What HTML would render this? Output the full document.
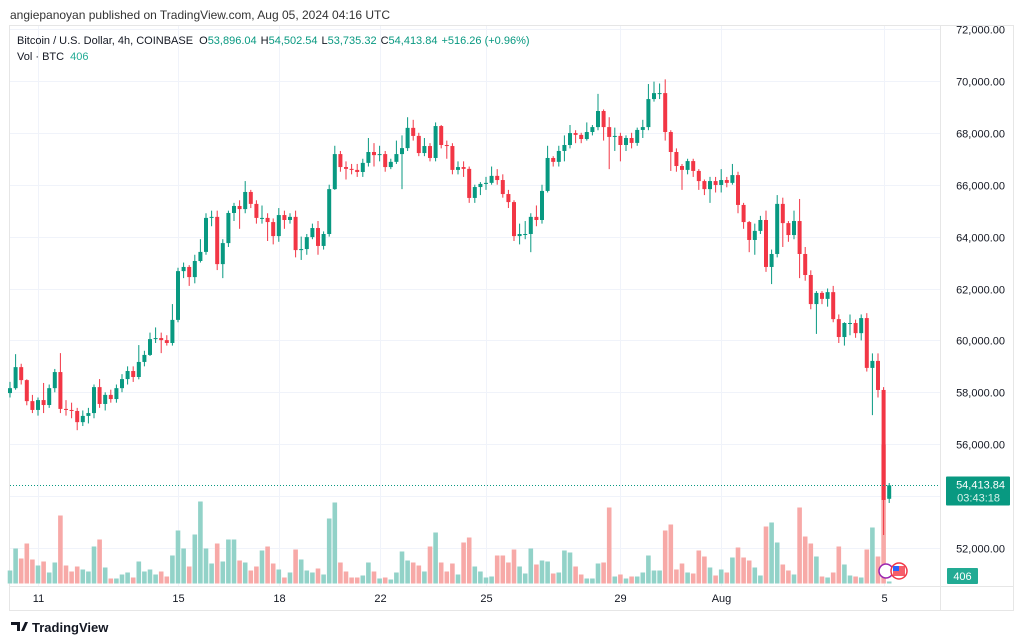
<!DOCTYPE html>
<html><head><meta charset="utf-8"><style>
body{margin:0;background:#fff;font-family:"Liberation Sans",sans-serif;}
#wrap{position:relative;width:1024px;height:643px;overflow:hidden;background:#fff}
svg text{font-family:"Liberation Sans",sans-serif}
</style></head><body>
<div id="wrap">
<svg id="chart" width="1024" height="643" viewBox="0 0 1024 643">
<text x="10" y="19" font-size="12" fill="#333">angiepanoyan published on TradingView.com, Aug 05, 2024 04:16 UTC</text>
<rect x="9.5" y="25.5" width="1004" height="585" fill="none" stroke="#e6e6e6"/>
<g id="grid"></g>
<g id="vols"></g>
<g id="candles"></g>
<g id="axis"></g>
<g>
<text x="17" y="44" font-size="11" fill="#131722">Bitcoin / U.S. Dollar, 4h, COINBASE <tspan dx="3">O</tspan><tspan fill="#089981">53,896.04</tspan><tspan dx="4">H</tspan><tspan fill="#089981">54,502.54</tspan><tspan dx="4">L</tspan><tspan fill="#089981">53,735.32</tspan><tspan dx="4">C</tspan><tspan fill="#089981">54,413.84</tspan><tspan dx="4" fill="#089981">+516.26 (+0.96%)</tspan></text>
<text x="17" y="60" font-size="11" fill="#131722">Vol · BTC <tspan dx="3" fill="#22ab94">406</tspan></text>
</g>
<g>
<circle cx="886" cy="571" r="7" fill="#fff" stroke="#9c27b0" stroke-width="1.5"/>
<circle cx="899" cy="571" r="8" fill="#fff" stroke="#f23645" stroke-width="1.5"/>
<rect x="893" y="566" width="12" height="10" fill="#f23645" opacity="0.8"/>
<rect x="893" y="566" width="6" height="5" fill="#2962ff"/>
</g>
<g>
<path d="M11 622h9v9h-3v-6h-6z M21 631l4-9h3l-4 9z" fill="#131722"/>
<text x="32" y="632" font-size="13" font-weight="bold" fill="#131722">TradingView</text>
</g>
</svg>
</div>
<script>
const closes=[58160,58970,58470,57660,57320,57700,57510,58160,58780,57360,
57320,57280,56850,57090,57200,58200,57550,57900,57740,58160,
58510,58820,58590,59170,59440,60050,60090,60010,59900,60790,
62670,62830,62440,63060,63410,64720,64760,62940,63750,64910,
65180,65060,65720,65260,64720,64720,64560,64020,64830,64640,
64760,63480,63520,63980,64330,63640,64100,65830,67180,66680,
66610,66570,66490,66840,67260,67140,67180,66680,66880,67180,
67410,68190,67880,67220,67490,67030,68260,67530,67490,66570,
66680,66610,65490,65910,66030,66070,66340,66180,65640,65330,
64020,64100,64100,64760,64640,65760,67030,66880,67300,67530,
67990,67920,67760,68030,68220,68840,68220,67840,67880,67530,
67800,67610,68110,68220,69300,69530,69530,68030,67260,66720,
66570,66910,66530,66140,65830,66140,65990,66180,66070,66370,
65220,64560,63870,64220,64640,62830,63330,65260,64520,64060,
64600,63330,62520,61400,61830,61600,61860,60820,60130,60670,
60670,60280,60860,58940,59210,58090,53850,54413.84];
const opens=[57970,58160,58970,58470,57660,57320,57700,57510,58160,58780,
57360,57320,57280,56850,57090,57200,58200,57550,57900,57740,
58160,58510,58820,58590,59170,59440,60050,60090,60010,59900,
60790,62670,62830,62440,63060,63410,64720,64760,62940,63750,
64910,65180,65060,65720,65260,64720,64720,64560,64020,64830,
64640,64760,63480,63520,63980,64330,63640,64100,65830,67180,
66680,66610,66570,66490,66840,67260,67140,67180,66680,66880,
67180,67410,68190,67880,67220,67490,67030,68260,67530,67490,
66570,66680,66610,65490,65910,66030,66070,66340,66180,65640,
65330,64020,64100,64100,64760,64640,65760,67030,66880,67300,
67530,67990,67920,67760,68030,68220,68840,68220,67840,67880,
67530,67800,67610,68110,68220,69300,69530,69530,68030,67260,
66720,66570,66910,66530,66140,65830,66140,65990,66180,66070,
66370,65220,64560,63870,64220,64640,62830,63330,65260,64520,
64060,64600,63330,62520,61400,61830,61600,61860,60820,60130,
60670,60670,60280,60860,58940,59210,58090,53896];
const highs=[58400,59470,59100,58500,57900,57800,58360,58300,58900,59510,
57700,57600,57400,57300,57400,58300,58510,58000,58100,58300,
58700,59000,59000,59820,59600,60300,60500,60300,60200,61400,
62800,63000,62900,63300,63900,64900,65000,65000,63900,65000,
65300,65400,66140,65800,65400,65200,64900,64700,65100,65000,
64900,65000,64000,64100,64500,64600,64200,66000,67500,67300,
66900,66800,66800,67000,67800,67600,67500,67300,67000,67700,
67900,68600,68500,68000,67800,67600,68400,68300,67700,67600,
66900,66900,66700,66000,66100,66300,66700,66600,66400,65800,
65400,64500,64600,64900,65200,66000,67500,67100,67500,67900,
68300,68100,68000,68400,68300,69500,68900,68600,68200,68000,
67900,68000,68200,68500,69880,69970,69900,70060,68100,67400,
66800,67000,67000,66600,66200,66300,66300,66600,66300,66800,
66500,65300,64600,64500,64800,65000,63500,65600,65500,64600,
65000,65450,63600,62700,61900,61900,62000,62100,61000,60700,
61000,60800,61000,61050,59500,59500,58200,54503];
const lows=[57800,58100,58300,57500,57200,57100,57200,57400,58000,57200,
57100,57000,56540,56700,56800,57000,57400,57300,57600,57600,
58000,58300,58400,58500,59000,59400,59900,59510,59800,59800,
60700,62400,62100,62200,63000,63300,64400,62710,62400,63600,
64600,64300,64900,65100,64500,64500,63830,63700,63800,64300,
64500,63200,63100,63300,63900,63300,63500,64000,65800,66500,
66200,66400,66300,66300,66700,66700,66900,66500,66600,66800,
65830,67300,67700,67100,67100,66900,66900,67400,67000,66400,
66400,66300,65300,65300,65600,65800,66000,66000,65500,65100,
63830,63700,63900,63400,64400,64500,65700,66700,66700,66900,
67400,67600,67600,67700,67900,68100,67700,66600,67300,66900,
67300,67400,67500,67800,68100,69200,69300,67700,66530,66500,
65800,66400,66300,65800,65600,65300,65700,65700,65900,66000,
64900,64300,63400,63300,64100,62640,62170,63200,63600,63800,
63900,62400,62300,61200,60250,61400,61300,60700,59900,59800,
60200,60100,60000,58800,57120,57800,52500,53735];
const volumes=[2600,7000,5000,8000,4800,3600,4400,2200,4200,13600,
3600,2400,3400,2800,2400,7400,8800,3200,1000,1000,
1800,2200,1200,4400,2400,2800,1800,2400,1400,5600,
10600,7000,3400,9800,16400,7000,4000,8000,4400,8800,
8800,4600,4200,2600,3400,6600,7400,4000,2800,1200,
2200,6800,4800,2600,2200,3000,1800,13000,16200,4200,
2400,1200,1200,1600,4200,2400,1000,1200,800,2200,
6400,4600,4200,3600,2400,7400,10200,4200,2400,4000,
1800,8200,9200,3400,2400,1200,1400,5600,5600,4200,
6800,3400,2000,7000,3800,4600,4400,2000,2200,6600,
6200,3400,1800,1000,1000,4000,4200,15200,1400,1800,
1000,1400,1400,2200,5600,2600,2600,10600,11800,2800,
4000,2200,2000,6600,5400,3200,1600,2800,2200,5200,
7200,5200,4600,3200,1600,11400,12200,8200,3800,2600,
1800,15200,9400,8000,5400,1400,1200,2200,7400,3800,
1600,1400,1200,6800,11200,5400,27800,406];
const priceTicks=[52000,54000,56000,58000,60000,62000,64000,66000,68000,70000,72000];
const dateLabels=["11","15","18","22","25","29","Aug","5"];
const dateIndex=[5,30,48,66,85,109,127,156];

const NS="http://www.w3.org/2000/svg";
const X0=10, STEP=5.6, LEFT=10, RIGHT=940;
function xOf(i){return X0+i*STEP;}
function yOf(p){return 29+(72000-p)*0.02595;}
const VBASE=583.5;
function vh(v){return v/200;}
function mk(tag,attrs,parent){const e=document.createElementNS(NS,tag);for(const k in attrs)e.setAttribute(k,attrs[k]);parent.appendChild(e);return e;}

const grid=document.getElementById('grid');
const axis=document.getElementById('axis');
priceTicks.forEach(p=>{
  const y=Math.round(yOf(p))+0.5;
  const gl=mk('line',{x1:LEFT,x2:RIGHT,y1:y,y2:y,stroke:'#f0f3fa'},grid);
  
  
  const t=mk('text',{x:1005,y:y+4,'font-size':11,fill:'#131722','text-anchor':'end'},axis);
  t.textContent=p.toLocaleString('en-US')+'.00';
  
  
});
dateLabels.forEach((d,k)=>{
  const x=Math.round(xOf(dateIndex[k]))+0.5;
  const gl=mk('line',{x1:x,x2:x,y1:26,y2:586,stroke:'#f0f3fa'},grid);
  
  
  const t=mk('text',{x:x,y:602,'font-size':11,fill:'#131722','text-anchor':'middle'},axis);
  t.textContent=d;
  
  
});
mk('line',{x1:RIGHT+0.5,x2:RIGHT+0.5,y1:26,y2:610,stroke:'#e6e6e6'},grid);
mk('line',{x1:10,x2:1013,y1:586.5,y2:586.5,stroke:'#e6e6e6'},grid);

const vg=document.getElementById('vols');
volumes.forEach((v,i)=>{
  const up=closes[i]>=opens[i];
  const h=vh(v);
  const r=mk('rect',{x:xOf(i)-2.3,y:VBASE-h,width:4.6,height:h,fill:up?'#92d2c8':'#f7a9a7'},vg);
  
  
});
const cg=document.getElementById('candles');
closes.forEach((c,i)=>{
  const o=opens[i];const up=c>=o;const col=up?'#089981':'#f23645';
  const x=xOf(i);
  const g=mk('g',{},cg);
  
  
  mk('line',{x1:x,x2:x,y1:yOf(highs[i]),y2:yOf(lows[i]),stroke:col,'stroke-width':1},g);
  const yt=yOf(Math.max(o,c)),yb=yOf(Math.min(o,c));
  mk('rect',{x:x-2,y:yt,width:4,height:Math.max(1,yb-yt),fill:col},g);
});
const last=closes[closes.length-1];
const ly=Math.round(yOf(last))+0.5;
const pl=mk('line',{x1:LEFT,x2:RIGHT,y1:ly,y2:ly,stroke:'#089981','stroke-dasharray':'1,2'},axis);


const lb=mk('rect',{x:946,y:ly-9,width:64,height:29,fill:'#089981',rx:1},axis);


const lt=mk('text',{x:1005,y:ly+3,'font-size':11,fill:'#fff','text-anchor':'end'},axis);
lt.textContent=last.toLocaleString('en-US',{minimumFractionDigits:2,maximumFractionDigits:2});


const lt2=mk('text',{x:1000,y:ly+16,'font-size':11,fill:'#d8f2ec','text-anchor':'end'},axis);
lt2.textContent='03:43:18';


const vb=mk('rect',{x:947,y:568,width:31,height:16,fill:'#22ab94',rx:1},axis);


const vt=mk('text',{x:962.5,y:580,'font-size':11,fill:'#fff','text-anchor':'middle'},axis);
vt.textContent=String(volumes[volumes.length-1]);


</script>
</body></html>
